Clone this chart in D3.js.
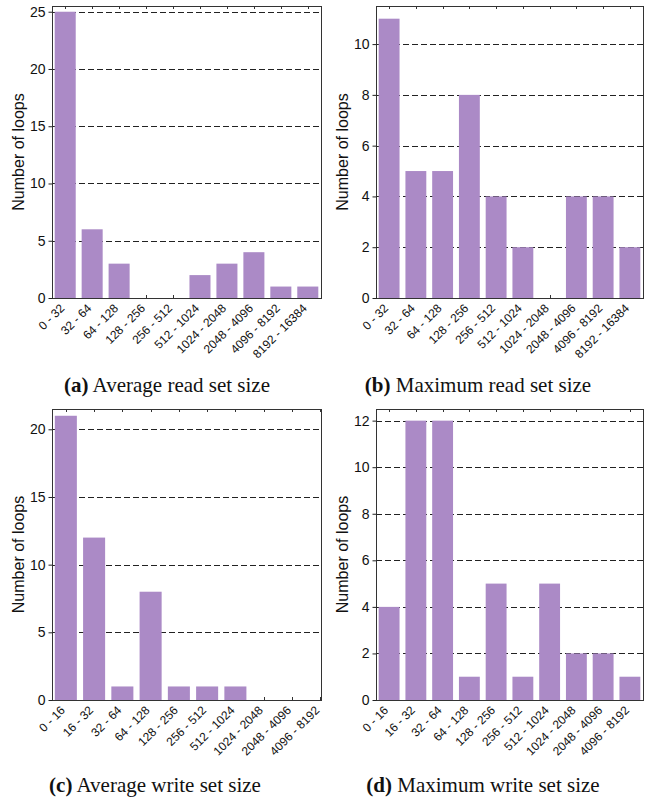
<!DOCTYPE html>
<meta charset="utf-8">
<script src="https://d3js.org/d3.v7.min.js"></script>
<style>
  body { margin: 0; background: #fff; }
  text { font-family: "Liberation Sans", Arial, Helvetica, sans-serif; fill: #111; }
  .cap { font-family: "Liberation Serif", "Times New Roman", serif; font-size: 21px; }
</style>
<body>
<div id="chart"></div>
<script>

// bins on the x axis
var readBins = ["0 - 32", "32 - 64", "64 - 128", "128 - 256", "256 - 512",
                "512 - 1024", "1024 - 2048", "2048 - 4096", "4096 - 8192", "8192 - 16384"];
var writeBins = ["0 - 16", "16 - 32", "32 - 64", "64 - 128", "128 - 256",
                 "256 - 512", "512 - 1024", "1024 - 2048", "2048 - 4096", "4096 - 8192"];

// number of loops per bin
var avgRead  = [25, 6, 3, 0, 0, 2, 3, 4, 1, 1];
var maxRead  = [11, 5, 5, 8, 4, 2, 0, 4, 4, 2];
var avgWrite = [21, 12, 1, 8, 1, 1, 1, 0, 0, 0];
var maxWrite = [4, 12, 12, 1, 5, 1, 5, 2, 2, 1];

// y tick values
var ticksAvgRead  = [0, 5, 10, 15, 20, 25];
var ticksMaxRead  = [0, 2, 4, 6, 8, 10];
var ticksAvgWrite = [0, 5, 10, 15, 20];
var ticksMaxWrite = [0, 2, 4, 6, 8, 10, 12];

// sub captions
var capLetters = ["(a)", "(b)", "(c)", "(d)"];
var capTexts = [" Average read set size", " Maximum read set size",
                " Average write set size", " Maximum write set size"];

var barColor = "#ab8ac6";

var svg = d3.select("#chart").append("svg")
    .attr("width", 647)
    .attr("height", 799);

var panels = [
  {bins: readBins,  vals: avgRead,  ticks: ticksAvgRead,  ymax: 25.5, left: 52,  right: 321, top: 6,   bottom: 298, xEnd: 321, capX: 167, capY: 392},
  {bins: readBins,  vals: maxRead,  ticks: ticksMaxRead,  ymax: 11.5, left: 376, right: 643, top: 6,   bottom: 298, xEnd: 643, capX: 478, capY: 392},
  {bins: writeBins, vals: avgWrite, ticks: ticksAvgWrite, ymax: 21.5, left: 52,  right: 321, top: 409, bottom: 700, xEnd: 334, capX: 155, capY: 792},
  {bins: writeBins, vals: maxWrite, ticks: ticksMaxWrite, ymax: 12.5, left: 376, right: 643, top: 409, bottom: 700, xEnd: 643, capX: 483, capY: 792}
];

panels.forEach(function(p, i) {
  var g = svg.append("g");

  var x = d3.scaleBand()
    .domain(p.bins)
    .range([p.left, p.xEnd])
    .paddingInner(0.22)
    .paddingOuter(0.1);

  var y = d3.scaleLinear()
    .domain([0, p.ymax])
    .range([p.bottom, p.top]);

  var clipId = "clip" + i;
  g.append("clipPath").attr("id", clipId)
    .append("rect")
      .attr("x", p.left).attr("y", p.top)
      .attr("width", p.right - p.left).attr("height", p.bottom - p.top);

  // dashed grid
  g.append("g")
    .selectAll("line")
    .data(p.ticks.filter(function(t) { return t > 0; }))
    .enter().append("line")
      .attr("x1", p.left).attr("x2", p.right)
      .attr("y1", function(d) { return Math.round(y(d)) + 0.5; })
      .attr("y2", function(d) { return Math.round(y(d)) + 0.5; })
      .attr("stroke", "#222")
      .attr("stroke-dasharray", "6,3");

  // small ticks at band centres, top and bottom, pointing in
  var centers = p.bins.map(function(b) { return x(b) + x.bandwidth() / 2; })
    .filter(function(c) { return c > p.left && c < p.right; });
  g.append("g")
    .selectAll("line")
    .data(centers)
    .enter().append("line")
      .attr("x1", function(d) { return Math.round(d) + 0.5; })
      .attr("x2", function(d) { return Math.round(d) + 0.5; })
      .attr("y1", p.top).attr("y2", p.top + 3)
      .attr("stroke", "#333");
  g.append("g")
    .selectAll("line")
    .data(centers)
    .enter().append("line")
      .attr("x1", function(d) { return Math.round(d) + 0.5; })
      .attr("x2", function(d) { return Math.round(d) + 0.5; })
      .attr("y1", p.bottom - 3).attr("y2", p.bottom)
      .attr("stroke", "#333");

  // bars
  g.append("g")
    .attr("clip-path", "url(#" + clipId + ")")
    .selectAll("rect")
    .data(p.vals)
    .enter().append("rect")
      .attr("x", function(d, j) { return x(p.bins[j]); })
      .attr("y", function(d) { return y(d); })
      .attr("width", x.bandwidth())
      .attr("height", function(d) { return p.bottom - y(d); })
      .attr("fill", barColor);

  // frame
  g.append("rect")
    .attr("x", p.left + 0.5).attr("y", p.top + 0.5)
    .attr("width", p.right - p.left).attr("height", p.bottom - p.top)
    .attr("fill", "none")
    .attr("stroke", "#333");

  // y axis
  var yAxis = g.append("g")
    .attr("transform", "translate(" + (p.left + 0.5) + ",0)")
    .call(d3.axisLeft(y).tickValues(p.ticks).tickSize(4).tickSizeOuter(0).tickPadding(3));
  yAxis.select(".domain").remove();
  yAxis.selectAll("line").attr("stroke", "#222");
  yAxis.selectAll("text")
    .style("font-family", "'Liberation Sans', Arial, sans-serif")
    .style("font-size", "14px")
    .attr("fill", "#111");

  // y title
  g.append("text")
    .attr("transform", "translate(" + (p.left - 28) + "," + ((p.top + p.bottom) / 2) + ") rotate(-90)")
    .attr("text-anchor", "middle")
    .style("font-size", "16px")
    .text("Number of loops");

  // x labels
  g.append("g")
    .selectAll("text")
    .data(p.bins)
    .enter().append("text")
      .attr("transform", function(d) {
        return "translate(" + (x(d) + x.bandwidth() / 2 - 3) + "," + (p.bottom + 8) + ") rotate(-45)";
      })
      .attr("text-anchor", "end")
      .attr("dy", "0.35em")
      .style("font-size", "12px")
      .text(function(d) { return d; });

  // caption
  var cap = g.append("text")
    .attr("class", "cap")
    .attr("x", p.capX).attr("y", p.capY)
    .attr("text-anchor", "middle");
  cap.append("tspan").style("font-weight", "bold").text(capLetters[i]);
  cap.append("tspan").text(capTexts[i]);
});

</script>
</body>
